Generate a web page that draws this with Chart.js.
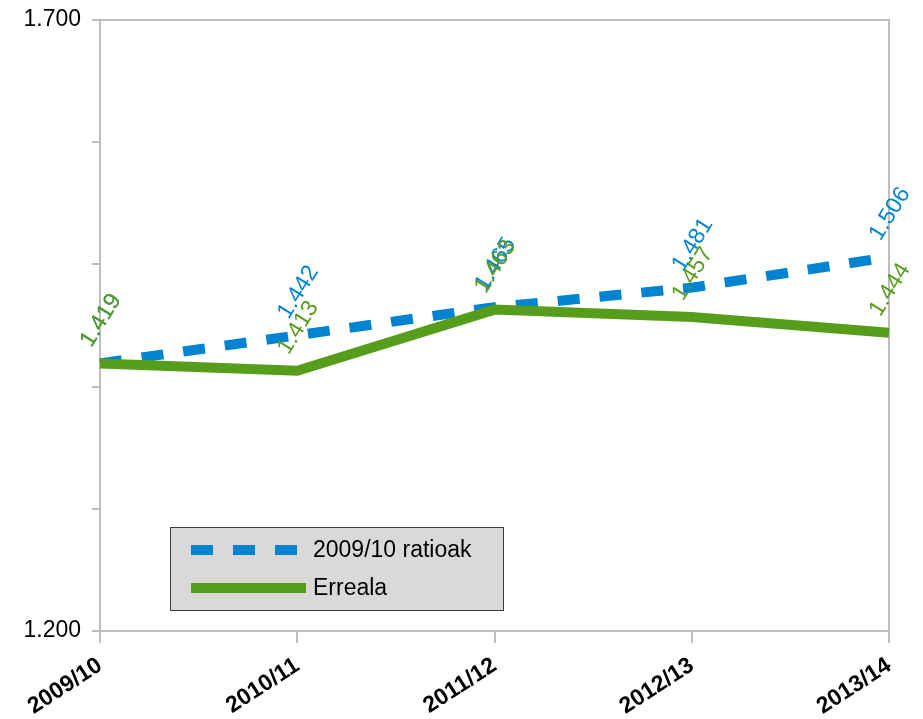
<!DOCTYPE html>
<html lang="eu">
<head>
    <meta charset="UTF-8">
    <title>Ratioak</title>
    <script src="https://cdn.jsdelivr.net/npm/chart.js"></script>
    <style>
        html, body { margin: 0; padding: 0; background: #fff; overflow: hidden; }
        canvas { display: block; }
    </style>
</head>
<body>
    <canvas id="ratioChart" width="923" height="719"></canvas>

    <script>
        // data
        const years = ['2009/10', '2010/11', '2011/12', '2012/13', '2013/14'];
        const ratio0910 = [1.419, 1.442, 1.465, 1.481, 1.506];
        const erreala = [1.419, 1.413, 1.463, 1.457, 1.444];
        const seriesNames = ['2009/10 ratioak', 'Erreala'];

        const blue = '#0084d1';
        const green = '#579d1c';
        const axisGray = '#bdbdbd';
        const font = "'Liberation Sans', Arial, sans-serif";

        // light frame round the plot area
        const frame = {
            id: 'frame',
            beforeDatasetsDraw(chart) {
                const c = chart.ctx;
                const a = chart.chartArea;
                c.save();
                c.strokeStyle = axisGray;
                c.lineWidth = 2;
                c.strokeRect(a.left, a.top, a.right - a.left, a.bottom - a.top);
                c.restore();
            }
        };

        // rotated value labels above each point
        const valueLabels = {
            id: 'valueLabels',
            afterDatasetsDraw(chart) {
                const c = chart.ctx;
                // blue first so green sits on top
                [0, 1].forEach(i => {
                    const ds = chart.data.datasets[i];
                    const meta = chart.getDatasetMeta(i);
                    meta.data.forEach((pt, j) => {
                        c.save();
                        c.translate(pt.x + 1, pt.y - 43);
                        c.rotate(-58 * Math.PI / 180);
                        c.font = '23px ' + font;
                        c.fillStyle = ds.borderColor;
                        c.textAlign = 'center';
                        c.textBaseline = 'middle';
                        c.fillText(ds.data[j].toFixed(3), 0, 0);
                        c.restore();
                    });
                });
            }
        };

        // legend box drawn inside the plot area
        const boxLegend = {
            id: 'boxLegend',
            afterDraw(chart) {
                const c = chart.ctx;
                const a = chart.chartArea;
                const x = a.left + 70, y = a.bottom - 104, w = 333, h = 83;
                c.save();
                c.fillStyle = '#d9d9d9';
                c.fillRect(x, y, w, h);
                c.strokeStyle = '#3c3c3c';
                c.lineWidth = 1;
                c.strokeRect(x + 0.5, y + 0.5, w, h);

                chart.data.datasets.forEach((ds, i) => {
                    const ly = y + 23 + i * 38;
                    c.beginPath();
                    c.lineWidth = ds.borderWidth;
                    c.strokeStyle = ds.borderColor;
                    c.setLineDash(ds.borderDash || []);
                    c.moveTo(x + 21, ly);
                    c.lineTo(x + 136, ly);
                    c.stroke();
                    c.setLineDash([]);
                    c.fillStyle = '#000';
                    c.font = '23px ' + font;
                    c.textBaseline = 'middle';
                    c.fillText(seriesNames[i], x + 143, ly + 1);
                });
                c.restore();
            }
        };

        const ctx = document.getElementById('ratioChart').getContext('2d');
        const ratioChart = new Chart(ctx, {
            type: 'line',
            data: {
                labels: years,
                datasets: [{
                    label: seriesNames[0],
                    data: ratio0910,
                    borderColor: blue,
                    borderWidth: 10,
                    borderDash: [22, 20],
                    pointRadius: 0,
                    tension: 0,
                    order: 2
                }, {
                    label: seriesNames[1],
                    data: erreala,
                    borderColor: green,
                    borderWidth: 10,
                    pointRadius: 0,
                    tension: 0,
                    order: 1
                }]
            },
            options: {
                responsive: false,
                animation: false,
                layout: { padding: { top: 20, right: 34, left: 0, bottom: 0 } },
                plugins: {
                    legend: { display: false },
                    tooltip: { enabled: false }
                },
                scales: {
                    x: {
                        offset: false,
                        grid: { drawOnChartArea: false, color: axisGray, lineWidth: 2, tickLength: 12 },
                        border: { color: axisGray, width: 2 },
                        ticks: {
                            color: '#000',
                            font: { family: font, size: 23, weight: 'bold' },
                            autoSkip: false,
                            minRotation: 33,
                            maxRotation: 33,
                            padding: 9
                        },
                        afterFit(scale) { scale.height = 88; }
                    },
                    y: {
                        min: 1.2,
                        max: 1.7,
                        grid: { drawOnChartArea: false, color: axisGray, lineWidth: 2, tickLength: 8 },
                        border: { color: axisGray, width: 2 },
                        ticks: {
                            stepSize: 0.1,
                            color: '#000',
                            font: { family: font, size: 23 },
                            padding: 11,
                            callback: (v, i, all) => (i === 0 || i === all.length - 1) ? v.toFixed(3) : ''
                        },
                        afterFit(scale) {
                            scale.width = 100;
                            scale.paddingTop = 0;
                            scale.paddingBottom = 0;
                        }
                    }
                }
            },
            plugins: [frame, valueLabels, boxLegend]
        });
    </script>
</body>
</html>
